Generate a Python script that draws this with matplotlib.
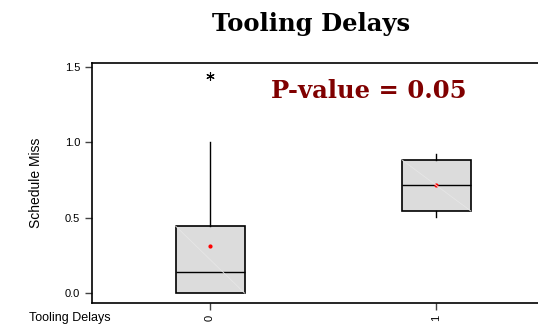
import matplotlib
matplotlib.use('Agg')
import matplotlib.pyplot as plt

# Box statistics
groups = ['0', '1']
medians = [0.14, 0.715]
q1s = [0.0, 0.545]
q3s = [0.445, 0.885]
whis_lo = [0.0, 0.505]
whis_hi = [1.0, 0.925]
means = [0.31, 0.715]
fliers = [[1.44], []]
y_ticks = [0.0, 0.5, 1.0, 1.5]

fig = plt.figure(figsize=(5.38, 3.27), dpi=100)
ax = fig.add_axes([92 / 538, 1 - 303 / 327, 1 - 92 / 538, 240 / 327])

stats = []
for i in range(len(groups)):
    stats.append(dict(med=medians[i], q1=q1s[i], q3=q3s[i], whislo=whis_lo[i],
                      whishi=whis_hi[i], mean=means[i], fliers=fliers[i], label=groups[i]))

positions = list(range(len(groups)))
width = 0.305
bp = ax.bxp(stats, positions=positions, widths=width, patch_artist=True,
            showmeans=True, showcaps=False,
            boxprops=dict(facecolor='#dcdcdc', edgecolor='black', linewidth=1.2),
            medianprops=dict(color='black', linewidth=1.0),
            whiskerprops=dict(color='black', linewidth=1.0),
            meanprops=dict(marker='o', markerfacecolor='red', markeredgecolor='red', markersize=2),
            flierprops=dict(marker=(6, 2, 0), markeredgecolor='black', markersize=6, markeredgewidth=0.8))

# faint diagonal across each box
for p, lo, hi in zip(positions, q1s, q3s):
    ax.plot([p - width / 2, p + width / 2], [hi, lo], color='#e6e6e6', linewidth=0.6, zorder=2.5)

ax.set_xlim(-0.522, 1.45)
ax.set_ylim(-0.066, 1.527)
ax.set_yticks(y_ticks)
ax.set_yticklabels([f'{t:.1f}' for t in y_ticks], fontsize=8, family='Liberation Sans')
ax.set_xticks(positions)
ax.set_xticklabels(groups, rotation=90, fontsize=8, family='Liberation Sans')
ax.tick_params(axis='both', direction='out', length=5, width=1.0, color='#444444')
ax.spines['right'].set_visible(False)
for s in ['left', 'top', 'bottom']:
    ax.spines[s].set_linewidth(1.2)

ax.set_ylabel('Schedule Miss', fontsize=10, family='Liberation Sans', labelpad=16)
fig.text(29 / 538, 1 - 318 / 327, 'Tooling Delays', fontsize=9, family='Liberation Sans', va='center')

fig.text(311 / 538, 1 - 24 / 327, 'Tooling Delays', fontsize=17.5, fontweight='bold',
         family='DejaVu Serif', ha='center', va='center')
ax.text(0.70, 1.34, 'P-value = 0.05', fontsize=17.5, fontweight='bold', color='#800000',
        family='DejaVu Serif', ha='center', va='center')

fig.savefig('out.png', dpi=100)
